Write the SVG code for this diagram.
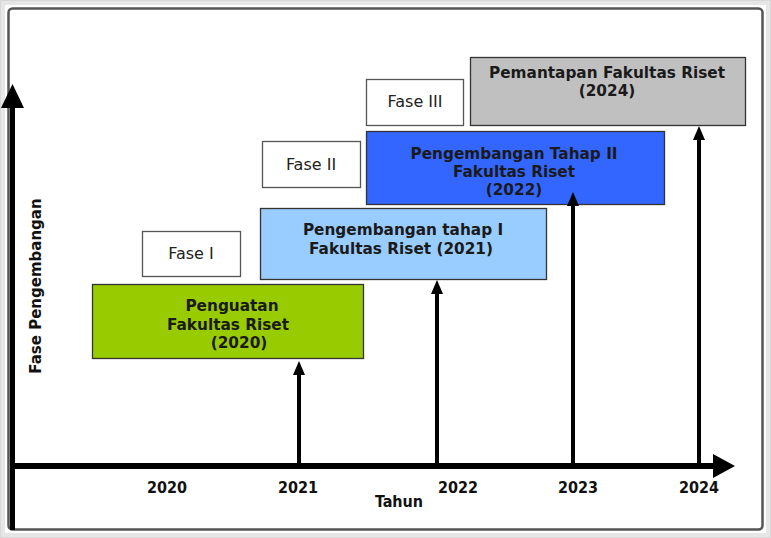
<svg xmlns="http://www.w3.org/2000/svg" width="771" height="538" viewBox="0 0 771 538">
  <style>
    .box { stroke: #333333; stroke-width: 1.3; }
    .fase { fill: #ffffff; stroke: #555555; stroke-width: 1.3; }
    .title { font-family: "DejaVu Sans", Verdana, sans-serif; font-weight: bold; font-size: 15.3px; fill: #1a1a1a; text-anchor: middle; }
    .flabel { font-family: "DejaVu Sans", Verdana, sans-serif; font-size: 16px; fill: #222222; text-anchor: middle; }
    .year { font-family: "DejaVu Sans Condensed", "DejaVu Sans", sans-serif; font-weight: bold; font-size: 16px; fill: #111111; text-anchor: middle; }
    .axis { stroke: #000000; fill: none; }
  </style>

  <!-- frame -->
  <rect x="0.5" y="0.5" width="770" height="537" fill="#ffffff" stroke="#d8d8d8" stroke-width="1"/>
  <rect x="3" y="3" width="765" height="532" fill="none" stroke="#e6e6e6" stroke-width="4"/>
  <rect x="8.5" y="8.5" width="754" height="521" rx="4" fill="#ffffff" stroke="#555555" stroke-width="2.5"/>

  <!-- axis labels -->
  <text x="41" y="286" transform="rotate(-90 41 286)" font-family="DejaVu Sans, Verdana, sans-serif" font-weight="bold" font-size="15px" fill="#111111" text-anchor="middle">Fase Pengembangan</text>
  <text class="year" x="167" y="493">2020</text>
  <text class="year" x="298" y="493">2021</text>
  <text class="year" x="458" y="493">2022</text>
  <text class="year" x="578" y="493">2023</text>
  <text class="year" x="699" y="493">2024</text>
  <text class="year" x="399" y="507">Tahun</text>

  <g id="fase1">
    <rect class="fase" x="142.5" y="231.5" width="98" height="45"/>
    <text class="flabel" x="191" y="259">Fase I</text>
  </g>
  <g id="fase2">
    <rect class="fase" x="262.5" y="141.5" width="98" height="46"/>
    <text class="flabel" x="311" y="170">Fase II</text>
  </g>
  <g id="fase3">
    <rect class="fase" x="366.5" y="79.5" width="97" height="46"/>
    <text class="flabel" x="415" y="107">Fase III</text>
  </g>

  <g id="penguatan">
    <rect class="box" x="92.5" y="284.5" width="271" height="74" fill="#99cc00"/>
    <text class="title" x="232" y="311">Penguatan</text>
    <text class="title" x="228" y="330">Fakultas Riset</text>
    <text class="title" x="239" y="348">(2020)</text>
  </g>

  <g id="tahap1">
    <rect class="box" x="260.5" y="208.5" width="286" height="71" fill="#99ccff"/>
    <text class="title" x="403" y="235">Pengembangan tahap I</text>
    <text class="title" x="401" y="254">Fakultas Riset (2021)</text>
  </g>

  <g id="tahap2">
    <rect class="box" x="366.5" y="131.5" width="298" height="73" fill="#3366ff"/>
    <text class="title" x="514" y="159">Pengembangan Tahap II</text>
    <text class="title" x="514" y="177">Fakultas Riset</text>
    <text class="title" x="514" y="195">(2022)</text>
  </g>

  <g id="pemantapan">
    <rect class="box" x="470.5" y="57.5" width="275" height="68" fill="#c0c0c0"/>
    <text class="title" x="607" y="78">Pemantapan Fakultas Riset</text>
    <text class="title" x="607" y="96">(2024)</text>
  </g>

  <!-- axes and year arrows, drawn over the boxes -->
  <g id="connectors">
    <line class="axis" x1="12.5" y1="530" x2="12.5" y2="106" stroke-width="5"/>
    <polygon points="12.5,84 24,108 1,108" fill="#000000"/>
    <line class="axis" x1="12" y1="466" x2="716" y2="466" stroke-width="6"/>
    <polygon points="735,466 713,454 713,478" fill="#000000"/>
    <line class="axis" x1="299" y1="466" x2="299" y2="372" stroke-width="4"/>
    <polygon points="299,361 305,375 293,375" fill="#000000"/>
    <line class="axis" x1="437" y1="466" x2="437" y2="291" stroke-width="4"/>
    <polygon points="437,280 443,294 431,294" fill="#000000"/>
    <line class="axis" x1="573" y1="466" x2="573" y2="203" stroke-width="4"/>
    <polygon points="573,192 579,206 567,206" fill="#000000"/>
    <line class="axis" x1="699" y1="466" x2="699" y2="137" stroke-width="4"/>
    <polygon points="699,126 705,140 693,140" fill="#000000"/>
  </g>
</svg>
